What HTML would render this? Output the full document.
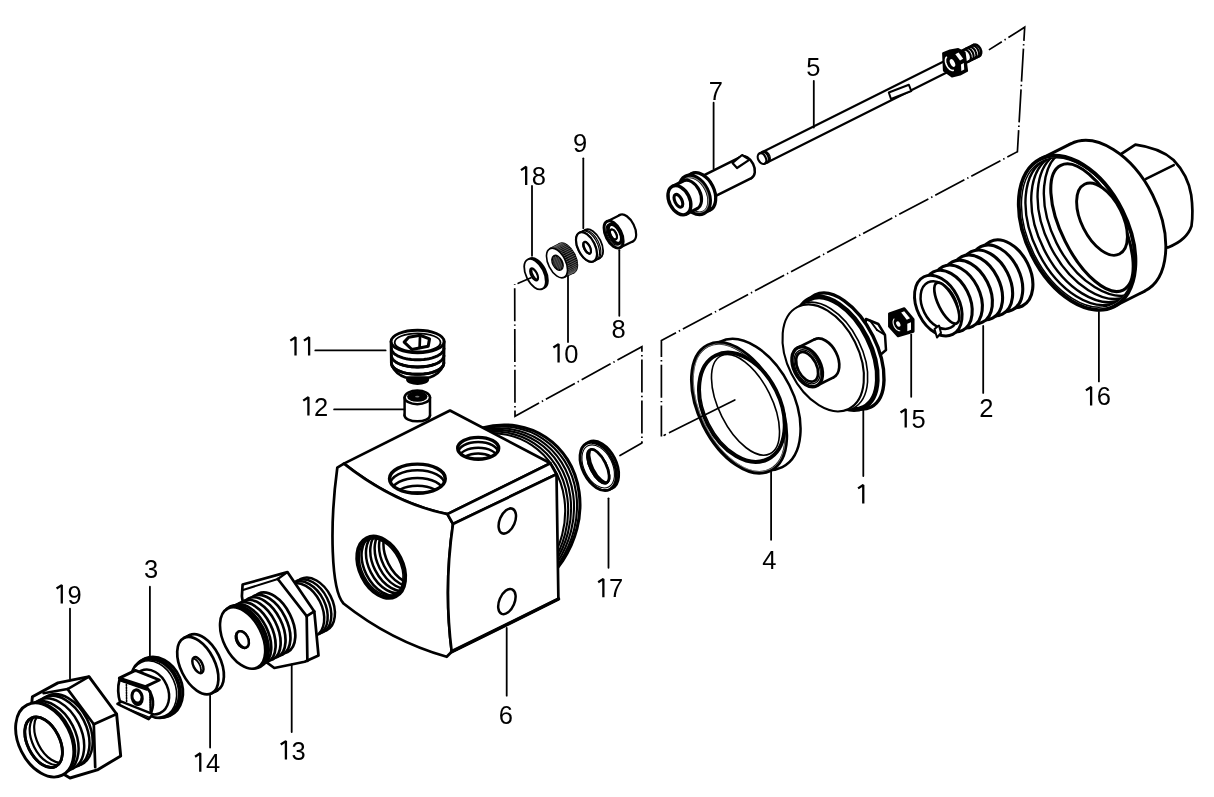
<!DOCTYPE html>
<html><head><meta charset="utf-8"><style>
html,body{margin:0;padding:0;background:#fff;}
svg{display:block;will-change:transform;}
text{font-family:"Liberation Sans",sans-serif;fill:#000;}
</style></head><body>
<svg width="1214" height="797" viewBox="0 0 1214 797" stroke-linecap="round" stroke-linejoin="round">
<defs><clipPath id="c1"><ellipse cx="417.4" cy="478.7" rx="27.9" ry="14.6" transform="rotate(0 417.4 478.7)"/></clipPath><clipPath id="c2"><ellipse cx="478.2" cy="448.3" rx="20.5" ry="10.9" transform="rotate(0 478.2 448.3)"/></clipPath><clipPath id="c3"><ellipse cx="381.2" cy="567.2" rx="21.4" ry="32.5" transform="rotate(-26.6 381.2 567.2)"/></clipPath><clipPath id="c4"><ellipse cx="598.3" cy="466.3" rx="7.8" ry="18.4" transform="rotate(-26.6 598.3 466.3)"/></clipPath><clipPath id="c5"><ellipse cx="534.1" cy="274.4" rx="2.9" ry="6.6" transform="rotate(-26.6 534.1 274.4)"/></clipPath><clipPath id="c6"><ellipse cx="557.5" cy="262.8" rx="4.6" ry="7.7" transform="rotate(-26.6 557.5 262.8)"/></clipPath><clipPath id="c7"><ellipse cx="587.1" cy="247.8" rx="2.9" ry="6.4" transform="rotate(-26.6 587.1 247.8)"/></clipPath><clipPath id="c8"><ellipse cx="613.4" cy="234.5" rx="2.8" ry="5.3" transform="rotate(-26.6 613.4 234.5)"/></clipPath><clipPath id="c9"><ellipse cx="1077.9" cy="232.4" rx="48.9" ry="79.7" transform="rotate(-26.6 1077.9 232.4)"/></clipPath><clipPath id="c10"><ellipse cx="43.6" cy="742.2" rx="16.1" ry="27.1" transform="rotate(-26.6 43.6 742.2)"/></clipPath><clipPath id="c11"><ellipse cx="197.9" cy="665.1" rx="4.5" ry="8.7" transform="rotate(-26.6 197.9 665.1)"/></clipPath><clipPath id="c12"><ellipse cx="242.4" cy="639.6" rx="5.8" ry="8.8" transform="rotate(-26.6 242.4 639.6)"/></clipPath></defs>
<rect width="1214" height="797" fill="#fff"/>
<ellipse cx="494.1" cy="515.2" rx="82.3" ry="93.5" transform="rotate(33.5 494.1 515.2)" fill="#fff" stroke="#000" stroke-width="3.1"/>
<ellipse cx="491.5" cy="516.5" rx="82" ry="93.2" transform="rotate(33.5 491.5 516.5)" fill="#fff" stroke="#000" stroke-width="2.1"/>
<ellipse cx="488.9" cy="517.8" rx="81.6" ry="92.8" transform="rotate(33.5 488.9 517.8)" fill="#fff" stroke="#000" stroke-width="2.1"/>
<ellipse cx="486.3" cy="519.1" rx="81.2" ry="92.5" transform="rotate(33.5 486.3 519.1)" fill="#fff" stroke="#000" stroke-width="2.1"/>
<ellipse cx="483.7" cy="520.4" rx="80.9" ry="92.1" transform="rotate(33.5 483.7 520.4)" fill="#fff" stroke="#000" stroke-width="2.1"/>
<ellipse cx="481.1" cy="521.7" rx="80.5" ry="91.8" transform="rotate(33.5 481.1 521.7)" fill="#fff" stroke="#000" stroke-width="2.1"/>
<path d="M450,410.5 L550.4,463.3 L447.4,514.1 Q394.75,503.55 343.9,463.6 Z" fill="#fff" stroke="#000" stroke-width="2.7" />
<path d="M337.3,467.7 L343.9,463.6 Q394.75,503.55 447.4,514.1 L453,524 Q443.65,588.15 451.7,651.7 L446.7,656.8 Q390.3,640.65 343.5,603.5 C331,590 329.5,525 337.3,467.7 Z" fill="#fff" stroke="#000" stroke-width="2.7" />
<path d="M447.4,514.1 L550.4,463.3 L556.5,474.3 L453,524 Z" fill="#fff" stroke="#000" stroke-width="2.7" />
<path d="M453,524 L556.5,474.3 L558.4,599 L451.7,651.7 Q443.65,588.15 453,524 Z" fill="#fff" stroke="#000" stroke-width="2.7" />
<line x1="451.7" y1="651.7" x2="558.4" y2="599" stroke="#000" stroke-width="3.6"/>
<g clip-path="url(#c1)">
<ellipse cx="417.4" cy="484.5" rx="27.1" ry="14.2" transform="rotate(0 417.4 484.5)" fill="none" stroke="#000" stroke-width="2.5"/>
<ellipse cx="417.4" cy="491.5" rx="25.9" ry="13.6" transform="rotate(0 417.4 491.5)" fill="none" stroke="#000" stroke-width="2.5"/>
<ellipse cx="417.4" cy="498.6" rx="24.6" ry="12.8" transform="rotate(0 417.4 498.6)" fill="none" stroke="#000" stroke-width="2.5"/>
<ellipse cx="417.4" cy="504.2" rx="22.3" ry="11.7" transform="rotate(0 417.4 504.2)" fill="none" stroke="#000" stroke-width="2.5"/>
</g>
<ellipse cx="417.4" cy="478.7" rx="27.9" ry="14.6" transform="rotate(0 417.4 478.7)" fill="none" stroke="#000" stroke-width="3.4"/>
<g clip-path="url(#c2)">
<ellipse cx="478.2" cy="452.7" rx="19.9" ry="10.6" transform="rotate(0 478.2 452.7)" fill="none" stroke="#000" stroke-width="2.5"/>
<ellipse cx="478.2" cy="457.9" rx="19.1" ry="10.1" transform="rotate(0 478.2 457.9)" fill="none" stroke="#000" stroke-width="2.5"/>
<ellipse cx="478.2" cy="463.1" rx="18" ry="9.6" transform="rotate(0 478.2 463.1)" fill="none" stroke="#000" stroke-width="2.5"/>
<ellipse cx="478.2" cy="467.4" rx="16.4" ry="8.7" transform="rotate(0 478.2 467.4)" fill="none" stroke="#000" stroke-width="2.5"/>
</g>
<ellipse cx="478.2" cy="448.3" rx="20.5" ry="10.9" transform="rotate(0 478.2 448.3)" fill="none" stroke="#000" stroke-width="3.4"/>
<g clip-path="url(#c3)">
<ellipse cx="385.6" cy="565" rx="21.4" ry="32.5" transform="rotate(-26.6 385.6 565)" fill="none" stroke="#000" stroke-width="2.5"/>
<ellipse cx="390" cy="562.8" rx="21.4" ry="32.5" transform="rotate(-26.6 390 562.8)" fill="none" stroke="#000" stroke-width="2.5"/>
<ellipse cx="394.3" cy="560.6" rx="21.4" ry="32.5" transform="rotate(-26.6 394.3 560.6)" fill="none" stroke="#000" stroke-width="2.5"/>
<ellipse cx="398.7" cy="558.4" rx="21.4" ry="32.5" transform="rotate(-26.6 398.7 558.4)" fill="none" stroke="#000" stroke-width="2.5"/>
<ellipse cx="403.1" cy="556.2" rx="21.4" ry="32.5" transform="rotate(-26.6 403.1 556.2)" fill="none" stroke="#000" stroke-width="2.5"/>
<ellipse cx="407.5" cy="554" rx="21.4" ry="32.5" transform="rotate(-26.6 407.5 554)" fill="none" stroke="#000" stroke-width="2.5"/>
</g>
<ellipse cx="381.2" cy="567.2" rx="19.2" ry="30.3" transform="rotate(-26.6 381.2 567.2)" fill="none" stroke="#000" stroke-width="1.6"/>
<ellipse cx="381.2" cy="567.2" rx="21.4" ry="32.5" transform="rotate(-26.6 381.2 567.2)" fill="none" stroke="#000" stroke-width="3.8"/>
<ellipse cx="507.3" cy="521" rx="7.6" ry="13.3" transform="rotate(23 507.3 521)" fill="none" stroke="#000" stroke-width="2.5"/>
<ellipse cx="506.9" cy="601.6" rx="7.6" ry="13.3" transform="rotate(23 506.9 601.6)" fill="none" stroke="#000" stroke-width="2.5"/>
<ellipse cx="417.3" cy="415.4" rx="12.7" ry="5.9" transform="rotate(0 417.3 415.4)" fill="#fff" stroke="#000" stroke-width="2.5"/>
<polygon points="404.6,397.4 430,397.4 430,415.4 404.6,415.4" fill="#fff" stroke="#000" stroke-width="0" stroke-linejoin="round"/>
<line x1="404.6" y1="397.4" x2="404.6" y2="415.4" stroke="#000" stroke-width="2.5"/>
<line x1="430" y1="397.4" x2="430" y2="415.4" stroke="#000" stroke-width="2.5"/>
<ellipse cx="417.3" cy="397.4" rx="12.7" ry="6.8" transform="rotate(0 417.3 397.4)" fill="#fff" stroke="#000" stroke-width="2.5"/>
<ellipse cx="417.3" cy="396.4" rx="10.2" ry="5.3" transform="rotate(0 417.3 396.4)" fill="#000" stroke="#000" stroke-width="0"/>
<ellipse cx="417.3" cy="396.6" rx="2.2" ry="0.9" transform="rotate(0 417.3 396.6)" fill="#777" stroke="#000" stroke-width="0"/>
<ellipse cx="417.6" cy="379.2" rx="10.5" ry="4.6" transform="rotate(0 417.6 379.2)" fill="#000" stroke="#000" stroke-width="2.2"/>
<path d="M392.1,366 Q395.6,374 405.6,377.5 L429.6,377.5 Q439.6,374 443.1,366 Z" fill="#fff" stroke="#000" stroke-width="2.7" />
<ellipse cx="417.6" cy="363" rx="26.2" ry="11.3" transform="rotate(0 417.6 363)" fill="#fff" stroke="#000" stroke-width="2.9"/>
<ellipse cx="417.6" cy="355.7" rx="26.2" ry="11.3" transform="rotate(0 417.6 355.7)" fill="#fff" stroke="#000" stroke-width="2.9"/>
<ellipse cx="417.6" cy="348.5" rx="26.2" ry="11.3" transform="rotate(0 417.6 348.5)" fill="#fff" stroke="#000" stroke-width="2.9"/>
<polygon points="391.1,341.5 444.1,341.5 443.8,363 391.4,363" fill="#fff" stroke="#000" stroke-width="0" stroke-linejoin="round"/>
<line x1="391.1" y1="341.5" x2="391.4" y2="363" stroke="#000" stroke-width="2.9"/>
<line x1="444.1" y1="341.5" x2="443.8" y2="363" stroke="#000" stroke-width="2.9"/>
<path d="M443.8 363 L443.7 363.8 L443.5 364.6 L443.2 365.3 L442.8 366.1 L442.2 366.9 L441.5 367.6 L440.7 368.3 L439.8 369 L438.8 369.6 L437.7 370.3 L436.4 370.8 L435.1 371.4 L433.7 371.9 L432.3 372.4 L430.7 372.8 L429.1 373.2 L427.4 373.5 L425.7 373.7 L423.9 374 L422.1 374.1 L420.3 374.2 L418.5 374.3 L416.7 374.3 L414.9 374.2 L413.1 374.1 L411.3 374 L409.5 373.7 L407.8 373.5 L406.1 373.2 L404.5 372.8 L402.9 372.4 L401.5 371.9 L400.1 371.4 L398.8 370.8 L397.5 370.3 L396.4 369.6 L395.4 369 L394.5 368.3 L393.7 367.6 L393 366.9 L392.4 366.1 L392 365.3 L391.7 364.6 L391.5 363.8 L391.4 363" fill="none" stroke="#000" stroke-width="2.9"/>
<path d="M443.8 355.7 L443.7 356.5 L443.5 357.3 L443.2 358 L442.8 358.8 L442.2 359.6 L441.5 360.3 L440.7 361 L439.8 361.7 L438.8 362.3 L437.7 363 L436.4 363.5 L435.1 364.1 L433.7 364.6 L432.3 365.1 L430.7 365.5 L429.1 365.9 L427.4 366.2 L425.7 366.4 L423.9 366.7 L422.1 366.8 L420.3 366.9 L418.5 367 L416.7 367 L414.9 366.9 L413.1 366.8 L411.3 366.7 L409.5 366.4 L407.8 366.2 L406.1 365.9 L404.5 365.5 L402.9 365.1 L401.5 364.6 L400.1 364.1 L398.8 363.5 L397.5 363 L396.4 362.3 L395.4 361.7 L394.5 361 L393.7 360.3 L393 359.6 L392.4 358.8 L392 358 L391.7 357.3 L391.5 356.5 L391.4 355.7" fill="none" stroke="#000" stroke-width="2.9"/>
<path d="M443.8 348.5 L443.7 349.3 L443.5 350.1 L443.2 350.8 L442.8 351.6 L442.2 352.4 L441.5 353.1 L440.7 353.8 L439.8 354.5 L438.8 355.1 L437.7 355.8 L436.4 356.3 L435.1 356.9 L433.7 357.4 L432.3 357.9 L430.7 358.3 L429.1 358.7 L427.4 359 L425.7 359.2 L423.9 359.5 L422.1 359.6 L420.3 359.7 L418.5 359.8 L416.7 359.8 L414.9 359.7 L413.1 359.6 L411.3 359.5 L409.5 359.2 L407.8 359 L406.1 358.7 L404.5 358.3 L402.9 357.9 L401.5 357.4 L400.1 356.9 L398.8 356.3 L397.5 355.8 L396.4 355.1 L395.4 354.5 L394.5 353.8 L393.7 353.1 L393 352.4 L392.4 351.6 L392 350.8 L391.7 350.1 L391.5 349.3 L391.4 348.5" fill="none" stroke="#000" stroke-width="2.9"/>
<ellipse cx="417.6" cy="341.5" rx="26.5" ry="11.3" transform="rotate(0 417.6 341.5)" fill="#fff" stroke="#000" stroke-width="2.9"/>
<ellipse cx="417.6" cy="342.4" rx="22.9" ry="9.1" transform="rotate(0 417.6 342.4)" fill="none" stroke="#000" stroke-width="1.8"/>
<polygon points="404.2,342.1 408.7,337.2 420.1,335.2 429.5,338.9 428.2,346.2 411.9,349.5" fill="#fff" stroke="#000" stroke-width="3.1" stroke-linejoin="round"/>
<line x1="420" y1="337" x2="419.6" y2="347.8" stroke="#000" stroke-width="2.7"/>
<ellipse cx="600.5" cy="465.2" rx="15.7" ry="25.8" transform="rotate(-26.6 600.5 465.2)" fill="#fff" stroke="#000" stroke-width="2.9"/>
<ellipse cx="598.2" cy="466.4" rx="15.7" ry="25.8" transform="rotate(-26.6 598.2 466.4)" fill="#fff" stroke="#000" stroke-width="2.9"/>
<ellipse cx="598.2" cy="466.4" rx="14.1" ry="23" transform="rotate(-26.6 598.2 466.4)" fill="none" stroke="#000" stroke-width="1.1"/>
<ellipse cx="598.3" cy="466.3" rx="7.8" ry="18.4" transform="rotate(-26.6 598.3 466.3)" fill="#000" stroke="#000" stroke-width="2.7"/>
<g clip-path="url(#c4)">
<ellipse cx="601.2" cy="464.9" rx="7.8" ry="18.4" transform="rotate(-26.6 601.2 464.9)" fill="#fff" stroke="#000" stroke-width="0"/>
</g>
<ellipse cx="598.3" cy="466.3" rx="7.8" ry="18.4" transform="rotate(-26.6 598.3 466.3)" fill="none" stroke="#000" stroke-width="2.7"/>
<ellipse cx="537" cy="273.2" rx="8.9" ry="16.4" transform="rotate(-26.6 537 273.2)" fill="#000" stroke="#000" stroke-width="2"/>
<ellipse cx="535" cy="274.2" rx="8.9" ry="16.4" transform="rotate(-26.6 535 274.2)" fill="#fff" stroke="#000" stroke-width="1.8"/>
<ellipse cx="534.1" cy="274.4" rx="2.9" ry="6.6" transform="rotate(-26.6 534.1 274.4)" fill="#fff" stroke="#000" stroke-width="2.2"/>
<g clip-path="url(#c5)">
<path d="M538.4 279.6 L538.2 279.7 L538 279.7 L537.8 279.7 L537.5 279.7 L537.3 279.7 L537.1 279.6 L536.8 279.5 L536.6 279.4 L536.3 279.2 L536 279 L535.8 278.8 L535.5 278.6 L535.2 278.4 L534.9 278.1 L534.7 277.8 L534.4 277.5 L534.2 277.1 L533.9 276.8 L533.7 276.4 L533.4 276 L533.2 275.6 L533 275.2 L532.8 274.8 L532.6 274.4 L532.4 274 L532.2 273.6 L532.1 273.1 L532 272.7 L531.8 272.3 L531.7 271.9 L531.7 271.5 L531.6 271.1 L531.6 270.8 L531.5 270.4 L531.5 270.1 L531.6 269.7 L531.6 269.4 L531.6 269.2 L531.7 268.9 L531.8 268.7 L531.9 268.5 L532 268.3 L532.2 268.1 L532.3 268 L532.5 267.9" fill="none" stroke="#000" stroke-width="1.8"/>
</g>
<ellipse cx="566.8" cy="258.1" rx="8.6" ry="16" transform="rotate(-26.6 566.8 258.1)" fill="#111" stroke="#000" stroke-width="1.8"/>
<polygon points="549.9,248.7 559.7,243.8 574,272.4 564.1,277.3" fill="#111" stroke="#000" stroke-width="1.8" stroke-linejoin="round"/>
<line x1="550.7" y1="248.4" x2="560.5" y2="243.5" stroke="#777" stroke-width="0.7"/>
<line x1="551.9" y1="248.2" x2="561.8" y2="243.3" stroke="#777" stroke-width="0.7"/>
<line x1="553.3" y1="248.3" x2="563.1" y2="243.4" stroke="#777" stroke-width="0.7"/>
<line x1="554.7" y1="248.7" x2="564.5" y2="243.8" stroke="#777" stroke-width="0.7"/>
<line x1="556.1" y1="249.4" x2="565.9" y2="244.4" stroke="#777" stroke-width="0.7"/>
<line x1="557.6" y1="250.3" x2="567.4" y2="245.4" stroke="#777" stroke-width="0.7"/>
<line x1="559" y1="251.5" x2="568.9" y2="246.6" stroke="#777" stroke-width="0.7"/>
<line x1="560.4" y1="252.9" x2="570.3" y2="248" stroke="#777" stroke-width="0.7"/>
<line x1="561.8" y1="254.5" x2="571.6" y2="249.6" stroke="#777" stroke-width="0.7"/>
<line x1="563" y1="256.3" x2="572.9" y2="251.3" stroke="#777" stroke-width="0.7"/>
<line x1="564.2" y1="258.2" x2="574" y2="253.2" stroke="#777" stroke-width="0.7"/>
<line x1="565.2" y1="260.2" x2="575" y2="255.2" stroke="#777" stroke-width="0.7"/>
<line x1="566" y1="262.2" x2="575.8" y2="257.3" stroke="#777" stroke-width="0.7"/>
<line x1="566.7" y1="264.3" x2="576.5" y2="259.4" stroke="#777" stroke-width="0.7"/>
<line x1="567.1" y1="266.3" x2="577" y2="261.4" stroke="#777" stroke-width="0.7"/>
<line x1="567.4" y1="268.3" x2="577.3" y2="263.4" stroke="#777" stroke-width="0.7"/>
<line x1="567.5" y1="270.2" x2="577.3" y2="265.2" stroke="#777" stroke-width="0.7"/>
<line x1="567.4" y1="271.9" x2="577.2" y2="267" stroke="#777" stroke-width="0.7"/>
<line x1="567" y1="273.5" x2="576.9" y2="268.5" stroke="#777" stroke-width="0.7"/>
<line x1="566.5" y1="274.8" x2="576.3" y2="269.9" stroke="#777" stroke-width="0.7"/>
<line x1="565.8" y1="275.9" x2="575.6" y2="271" stroke="#777" stroke-width="0.7"/>
<line x1="564.9" y1="276.8" x2="574.8" y2="271.9" stroke="#777" stroke-width="0.7"/>
<ellipse cx="557" cy="263" rx="8.6" ry="16" transform="rotate(-26.6 557 263)" fill="#fff" stroke="#000" stroke-width="1.6"/>
<ellipse cx="557.5" cy="262.8" rx="4.6" ry="7.7" transform="rotate(-26.6 557.5 262.8)" fill="#333" stroke="#000" stroke-width="2"/>
<g clip-path="url(#c6)">
<line x1="542.2" y1="256" x2="548.2" y2="270" stroke="#666" stroke-width="0.6"/>
<line x1="544.8" y1="256" x2="550.8" y2="270" stroke="#666" stroke-width="0.6"/>
<line x1="547.4" y1="256" x2="553.4" y2="270" stroke="#666" stroke-width="0.6"/>
<line x1="550" y1="256" x2="556" y2="270" stroke="#666" stroke-width="0.6"/>
<line x1="552.6" y1="256" x2="558.6" y2="270" stroke="#666" stroke-width="0.6"/>
<line x1="555.2" y1="256" x2="561.2" y2="270" stroke="#666" stroke-width="0.6"/>
<line x1="557.8" y1="256" x2="563.8" y2="270" stroke="#666" stroke-width="0.6"/>
</g>
<ellipse cx="592.6" cy="244" rx="8.6" ry="16" transform="rotate(-26.6 592.6 244)" fill="#fff" stroke="#000" stroke-width="1.8"/>
<polygon points="579.4,232.7 585.4,229.7 599.7,258.2 593.6,261.3" fill="#fff" stroke="#000" stroke-width="0" stroke-linejoin="round"/>
<line x1="579.4" y1="232.7" x2="585.4" y2="229.7" stroke="#000" stroke-width="1.8"/>
<line x1="593.6" y1="261.3" x2="599.7" y2="258.2" stroke="#000" stroke-width="1.8"/>
<ellipse cx="586.5" cy="247" rx="8.6" ry="16" transform="rotate(-26.6 586.5 247)" fill="#fff" stroke="#000" stroke-width="1.8"/>
<path d="M581.9 231.5 L582.4 231.2 L583 231.1 L583.6 231 L584.3 230.9 L584.9 231 L585.6 231.1 L586.3 231.3 L587 231.6 L587.7 231.9 L588.5 232.3 L589.2 232.8 L589.9 233.3 L590.7 233.9 L591.4 234.6 L592.1 235.3 L592.8 236 L593.5 236.8 L594.1 237.7 L594.7 238.6 L595.3 239.5 L595.9 240.4 L596.4 241.4 L596.9 242.4 L597.4 243.4 L597.8 244.4 L598.2 245.5 L598.5 246.5 L598.8 247.5 L599.1 248.6 L599.2 249.6 L599.4 250.5 L599.5 251.5 L599.5 252.5 L599.5 253.4 L599.4 254.2 L599.3 255 L599.1 255.8 L598.9 256.6 L598.7 257.2 L598.4 257.9 L598 258.4 L597.6 258.9 L597.2 259.4 L596.7 259.7 L596.2 260" fill="none" stroke="#000" stroke-width="1.2"/>
<path d="M583.2 230.8 L583.8 230.6 L584.3 230.4 L585 230.3 L585.6 230.3 L586.3 230.3 L586.9 230.5 L587.6 230.7 L588.4 230.9 L589.1 231.3 L589.8 231.7 L590.5 232.1 L591.3 232.7 L592 233.2 L592.7 233.9 L593.4 234.6 L594.1 235.4 L594.8 236.2 L595.5 237 L596.1 237.9 L596.7 238.8 L597.2 239.8 L597.8 240.7 L598.3 241.7 L598.7 242.7 L599.2 243.8 L599.5 244.8 L599.9 245.8 L600.2 246.9 L600.4 247.9 L600.6 248.9 L600.7 249.9 L600.8 250.8 L600.8 251.8 L600.8 252.7 L600.8 253.6 L600.6 254.4 L600.5 255.2 L600.3 255.9 L600 256.6 L599.7 257.2 L599.3 257.8 L598.9 258.3 L598.5 258.7 L598 259.1 L597.5 259.4" fill="none" stroke="#000" stroke-width="1.2"/>
<ellipse cx="586.5" cy="247" rx="8.6" ry="16" transform="rotate(-26.6 586.5 247)" fill="#fff" stroke="#000" stroke-width="2.2"/>
<ellipse cx="587.1" cy="247.8" rx="2.9" ry="6.4" transform="rotate(-26.6 587.1 247.8)" fill="#000" stroke="#000" stroke-width="2.1"/>
<g clip-path="url(#c7)">
<ellipse cx="588.4" cy="247.1" rx="2.9" ry="6.4" transform="rotate(-26.6 588.4 247.1)" fill="#fff" stroke="#000" stroke-width="0"/>
</g>
<ellipse cx="587.1" cy="247.8" rx="2.9" ry="6.4" transform="rotate(-26.6 587.1 247.8)" fill="none" stroke="#000" stroke-width="2.1"/>
<ellipse cx="626.6" cy="228" rx="7.8" ry="14.7" transform="rotate(-26.6 626.6 228)" fill="#fff" stroke="#000" stroke-width="2.2"/>
<polygon points="607,221.4 620,214.9 633.1,241.2 620.2,247.6" fill="#fff" stroke="#000" stroke-width="0" stroke-linejoin="round"/>
<line x1="607" y1="221.4" x2="620" y2="214.9" stroke="#000" stroke-width="2.2"/>
<line x1="620.2" y1="247.6" x2="633.1" y2="241.2" stroke="#000" stroke-width="2.2"/>
<ellipse cx="613.6" cy="234.5" rx="7.8" ry="14.7" transform="rotate(-26.6 613.6 234.5)" fill="#fff" stroke="#000" stroke-width="2.9"/>
<ellipse cx="613.6" cy="234.5" rx="6.1" ry="11.5" transform="rotate(-26.6 613.6 234.5)" fill="none" stroke="#000" stroke-width="1.2"/>
<ellipse cx="614.9" cy="233.9" rx="5.5" ry="10.4" transform="rotate(-26.6 614.9 233.9)" fill="none" stroke="#000" stroke-width="3.4"/>
<ellipse cx="613.4" cy="234.5" rx="2.8" ry="5.3" transform="rotate(-26.6 613.4 234.5)" fill="#000" stroke="#000" stroke-width="2.2"/>
<g clip-path="url(#c8)">
<ellipse cx="614.4" cy="234" rx="2.8" ry="5.3" transform="rotate(-26.6 614.4 234)" fill="#fff" stroke="#000" stroke-width="0"/>
</g>
<ellipse cx="613.4" cy="234.5" rx="2.8" ry="5.3" transform="rotate(-26.6 613.4 234.5)" fill="none" stroke="#000" stroke-width="2.2"/>
<ellipse cx="746.1" cy="167.4" rx="7.8" ry="11.9" transform="rotate(-26.6 746.1 167.4)" fill="#fff" stroke="#000" stroke-width="2.5"/>
<polygon points="703.7,175.4 740.8,156.8 751.4,178.1 714.3,196.6" fill="#fff" stroke="#000" stroke-width="0" stroke-linejoin="round"/>
<line x1="703.7" y1="175.4" x2="740.8" y2="156.8" stroke="#000" stroke-width="2.5"/>
<line x1="714.3" y1="196.6" x2="751.4" y2="178.1" stroke="#000" stroke-width="2.5"/>
<polygon points="732.5,162.9 742.1,155 749.6,159.7 737,168" fill="#fff" stroke="#000" stroke-width="2.2" stroke-linejoin="round"/>
<ellipse cx="700.5" cy="192" rx="13.5" ry="20.5" transform="rotate(-26.6 700.5 192)" fill="#fff" stroke="#000" stroke-width="3.4"/>
<ellipse cx="700.5" cy="192" rx="13.3" ry="20.2" transform="rotate(-26.6 700.5 192)" fill="#fff" stroke="#000" stroke-width="2.7"/>
<polygon points="685.7,176.9 691.5,174 709.5,210 703.7,212.9" fill="#fff" stroke="#000" stroke-width="0" stroke-linejoin="round"/>
<line x1="685.7" y1="176.9" x2="691.5" y2="174" stroke="#000" stroke-width="2.7"/>
<line x1="703.7" y1="212.9" x2="709.5" y2="210" stroke="#000" stroke-width="2.7"/>
<ellipse cx="694.7" cy="194.9" rx="13.3" ry="20.2" transform="rotate(-26.6 694.7 194.9)" fill="#fff" stroke="#000" stroke-width="4.7"/>
<ellipse cx="694.7" cy="194.9" rx="12.3" ry="18.7" transform="rotate(-26.6 694.7 194.9)" fill="none" stroke="#888" stroke-width="1.1"/>
<ellipse cx="690.1" cy="194.8" rx="10.2" ry="15.5" transform="rotate(-26.6 690.1 194.8)" fill="#fff" stroke="#000" stroke-width="3.1"/>
<polygon points="672.5,186.3 683.2,181 697.1,208.7 686.3,214.1" fill="#fff" stroke="#000" stroke-width="0" stroke-linejoin="round"/>
<line x1="672.5" y1="186.3" x2="683.2" y2="181" stroke="#000" stroke-width="3.1"/>
<line x1="686.3" y1="214.1" x2="697.1" y2="208.7" stroke="#000" stroke-width="3.1"/>
<ellipse cx="679.4" cy="200.2" rx="10.2" ry="15.5" transform="rotate(-26.6 679.4 200.2)" fill="#fff" stroke="#000" stroke-width="3.4"/>
<ellipse cx="678.4" cy="200.8" rx="3.5" ry="6.9" transform="rotate(-26.6 678.4 200.8)" fill="#fff" stroke="#000" stroke-width="3.1"/>
<ellipse cx="947.1" cy="66" rx="3.8" ry="5.7" transform="rotate(-26.6 947.1 66)" fill="#fff" stroke="#000" stroke-width="2.2"/>
<polygon points="759.4,153.5 944.6,60.9 949.7,71.1 764.6,163.7" fill="#fff" stroke="#000" stroke-width="0" stroke-linejoin="round"/>
<line x1="759.4" y1="153.5" x2="944.6" y2="60.9" stroke="#000" stroke-width="2.2"/>
<line x1="764.6" y1="163.7" x2="949.7" y2="71.1" stroke="#000" stroke-width="2.2"/>
<ellipse cx="762" cy="158.6" rx="3.8" ry="5.7" transform="rotate(-26.6 762 158.6)" fill="#fff" stroke="#000" stroke-width="2.2"/>
<path d="M762.1 152.1 L762.4 152 L762.6 151.9 L762.9 151.9 L763.2 151.9 L763.4 151.9 L763.7 151.9 L764 151.9 L764.3 152 L764.6 152.1 L764.9 152.2 L765.2 152.4 L765.5 152.6 L765.8 152.8 L766.1 153 L766.3 153.2 L766.6 153.5 L766.9 153.8 L767.1 154.1 L767.3 154.4 L767.6 154.7 L767.8 155 L768 155.4 L768.2 155.7 L768.3 156.1 L768.5 156.5 L768.6 156.9 L768.7 157.2 L768.8 157.6 L768.8 158 L768.9 158.4 L768.9 158.7 L768.9 159.1 L768.9 159.4 L768.9 159.8 L768.8 160.1 L768.7 160.4 L768.7 160.7 L768.5 161 L768.4 161.3 L768.3 161.5 L768.1 161.7 L767.9 161.9 L767.7 162.1 L767.5 162.3 L767.2 162.4" fill="none" stroke="#000" stroke-width="2.5"/>
<path d="M763.5 151.5 L763.7 151.4 L764 151.3 L764.2 151.2 L764.5 151.2 L764.8 151.2 L765.1 151.2 L765.3 151.3 L765.6 151.3 L765.9 151.4 L766.2 151.6 L766.5 151.7 L766.8 151.9 L767.1 152.1 L767.4 152.3 L767.7 152.6 L767.9 152.8 L768.2 153.1 L768.5 153.4 L768.7 153.7 L768.9 154 L769.1 154.4 L769.3 154.7 L769.5 155.1 L769.7 155.4 L769.8 155.8 L769.9 156.2 L770 156.6 L770.1 156.9 L770.2 157.3 L770.2 157.7 L770.3 158.1 L770.3 158.4 L770.3 158.8 L770.2 159.1 L770.2 159.4 L770.1 159.7 L770 160 L769.9 160.3 L769.7 160.6 L769.6 160.8 L769.4 161 L769.2 161.3 L769 161.4 L768.8 161.6 L768.6 161.7" fill="none" stroke="#000" stroke-width="1.2"/>
<polygon points="888.8,92.5 908.9,84.8 911.3,91 891,99" fill="#fff" stroke="#000" stroke-width="2" stroke-linejoin="round"/>
<ellipse cx="976.5" cy="50.5" rx="4.2" ry="6.4" transform="rotate(-26.6 976.5 50.5)" fill="#fff" stroke="#000" stroke-width="2.5"/>
<polygon points="960.7,51.3 973.6,44.8 979.3,56.2 966.3,62.7" fill="#fff" stroke="#000" stroke-width="0" stroke-linejoin="round"/>
<line x1="960.7" y1="51.3" x2="973.6" y2="44.8" stroke="#000" stroke-width="2.5"/>
<line x1="966.3" y1="62.7" x2="979.3" y2="56.2" stroke="#000" stroke-width="2.5"/>
<path d="M963.3 50 L963.6 49.8 L963.9 49.8 L964.2 49.7 L964.5 49.7 L964.8 49.7 L965.1 49.7 L965.4 49.7 L965.8 49.8 L966.1 49.9 L966.4 50.1 L966.7 50.3 L967.1 50.4 L967.4 50.7 L967.7 50.9 L968 51.2 L968.3 51.5 L968.6 51.8 L968.9 52.1 L969.1 52.5 L969.4 52.8 L969.6 53.2 L969.8 53.6 L970 54 L970.2 54.4 L970.4 54.8 L970.5 55.2 L970.6 55.6 L970.7 56 L970.8 56.5 L970.9 56.9 L970.9 57.3 L970.9 57.7 L970.9 58.1 L970.8 58.5 L970.8 58.8 L970.7 59.2 L970.6 59.5 L970.5 59.8 L970.3 60.1 L970.1 60.4 L970 60.6 L969.8 60.8 L969.5 61 L969.3 61.2 L969 61.4" fill="none" stroke="#000" stroke-width="2.1"/>
<path d="M966 48.6 L966.3 48.5 L966.6 48.4 L966.9 48.4 L967.2 48.3 L967.5 48.3 L967.8 48.3 L968.1 48.4 L968.4 48.5 L968.8 48.6 L969.1 48.7 L969.4 48.9 L969.8 49.1 L970.1 49.3 L970.4 49.6 L970.7 49.8 L971 50.1 L971.3 50.4 L971.6 50.8 L971.8 51.1 L972.1 51.5 L972.3 51.9 L972.5 52.2 L972.7 52.6 L972.9 53 L973.1 53.5 L973.2 53.9 L973.3 54.3 L973.4 54.7 L973.5 55.1 L973.5 55.5 L973.6 55.9 L973.6 56.3 L973.6 56.7 L973.5 57.1 L973.5 57.5 L973.4 57.8 L973.3 58.2 L973.1 58.5 L973 58.8 L972.8 59 L972.6 59.3 L972.4 59.5 L972.2 59.7 L972 59.9 L971.7 60" fill="none" stroke="#000" stroke-width="2.1"/>
<path d="M968.7 47.3 L969 47.2 L969.3 47.1 L969.5 47 L969.8 47 L970.2 47 L970.5 47 L970.8 47.1 L971.1 47.1 L971.5 47.3 L971.8 47.4 L972.1 47.6 L972.4 47.8 L972.8 48 L973.1 48.2 L973.4 48.5 L973.7 48.8 L974 49.1 L974.2 49.4 L974.5 49.8 L974.8 50.1 L975 50.5 L975.2 50.9 L975.4 51.3 L975.6 51.7 L975.7 52.1 L975.9 52.5 L976 52.9 L976.1 53.4 L976.2 53.8 L976.2 54.2 L976.3 54.6 L976.3 55 L976.3 55.4 L976.2 55.8 L976.1 56.1 L976.1 56.5 L976 56.8 L975.8 57.1 L975.7 57.4 L975.5 57.7 L975.3 57.9 L975.1 58.2 L974.9 58.4 L974.7 58.5 L974.4 58.7" fill="none" stroke="#000" stroke-width="2.1"/>
<path d="M971.4 45.9 L971.7 45.8 L971.9 45.7 L972.2 45.7 L972.5 45.6 L972.8 45.6 L973.2 45.7 L973.5 45.7 L973.8 45.8 L974.1 45.9 L974.5 46.1 L974.8 46.2 L975.1 46.4 L975.4 46.6 L975.8 46.9 L976.1 47.2 L976.4 47.4 L976.7 47.8 L976.9 48.1 L977.2 48.4 L977.4 48.8 L977.7 49.2 L977.9 49.6 L978.1 50 L978.3 50.4 L978.4 50.8 L978.6 51.2 L978.7 51.6 L978.8 52 L978.9 52.4 L978.9 52.9 L978.9 53.3 L979 53.7 L978.9 54 L978.9 54.4 L978.8 54.8 L978.7 55.1 L978.6 55.5 L978.5 55.8 L978.4 56.1 L978.2 56.3 L978 56.6 L977.8 56.8 L977.6 57 L977.3 57.2 L977.1 57.3" fill="none" stroke="#000" stroke-width="2.1"/>
<polygon points="943.2,53.2 950,50.5 958.2,49.1 964.5,52.5 967,70.8 960,74.5 952,76.4 944,70.5 943.5,60.1" fill="#000" stroke="#000" stroke-width="2.2" stroke-linejoin="round"/>
<polygon points="955.3,54.2 958.6,52.6 963.2,58.8 960,60.6" fill="#fff" stroke="#000" stroke-width="0" stroke-linejoin="round"/>
<polygon points="961,64.4 963.8,63 964.2,69.6 961.3,71" fill="#fff" stroke="#000" stroke-width="0" stroke-linejoin="round"/>
<path d="M953.2 70.4 L952.8 70.5 L952.5 70.5 L952.2 70.4 L951.9 70.4 L951.5 70.2 L951.2 70.1 L950.8 69.9 L950.5 69.7 L950.1 69.5 L949.8 69.3 L949.4 69 L949.1 68.6 L948.8 68.3 L948.4 67.9 L948.1 67.6 L947.8 67.2 L947.5 66.7 L947.2 66.3 L947 65.8 L946.7 65.4 L946.5 64.9 L946.3 64.4 L946.1 63.9 L946 63.5 L945.8 63 L945.7 62.5 L945.6 62 L945.5 61.5 L945.5 61.1 L945.5 60.6 L945.5 60.2 L945.5 59.8 L945.5 59.4 L945.6 59 L945.7 58.6 L945.8 58.3 L946 58 L946.1 57.7 L946.3 57.4 L946.5 57.2" fill="none" stroke="#fff" stroke-width="1.6"/>
<ellipse cx="952.5" cy="63" rx="2.2" ry="4.2" transform="rotate(-26.6 952.5 63)" fill="#fff" stroke="#000" stroke-width="0"/>
<ellipse cx="751" cy="404.5" rx="42.9" ry="70" transform="rotate(-26.6 751 404.5)" fill="#fff" stroke="#000" stroke-width="2.5"/>
<ellipse cx="739.1" cy="407.8" rx="39.6" ry="69.8" transform="rotate(-26.6 739.1 407.8)" fill="#fff" stroke="#000" stroke-width="3.8"/>
<ellipse cx="739.3" cy="407.7" rx="38.5" ry="68.8" transform="rotate(-26.6 739.3 407.7)" fill="none" stroke="#ccc" stroke-width="0.5"/>
<ellipse cx="741.8" cy="407.3" rx="38.5" ry="58.4" transform="rotate(-26.6 741.8 407.3)" fill="#fff" stroke="#000" stroke-width="3.1"/>
<ellipse cx="741.9" cy="407.2" rx="36.8" ry="56.8" transform="rotate(-26.6 741.9 407.2)" fill="none" stroke="#000" stroke-width="1.5"/>
<ellipse cx="745.5" cy="404.8" rx="26.4" ry="54.7" transform="rotate(-26.6 745.5 404.8)" fill="none" stroke="#000" stroke-width="1.6"/>
<polygon points="866,319 878.3,324 885,335 886,350 879,356 862,350" fill="#fff" stroke="#000" stroke-width="2.5" stroke-linejoin="round"/>
<line x1="870" y1="320.5" x2="877" y2="330" stroke="#000" stroke-width="2"/>
<line x1="877" y1="330" x2="885" y2="335" stroke="#000" stroke-width="2"/>
<ellipse cx="843" cy="351" rx="33.5" ry="62.6" transform="rotate(-26.6 843 351)" fill="#fff" stroke="#000" stroke-width="3.4"/>
<ellipse cx="836.5" cy="353.2" rx="34.2" ry="60.5" transform="rotate(-26.6 836.5 353.2)" fill="#fff" stroke="#000" stroke-width="4.7"/>
<ellipse cx="827" cy="356.5" rx="35.1" ry="58" transform="rotate(-26.6 827 356.5)" fill="#fff" stroke="#000" stroke-width="1.6"/>
<ellipse cx="823.2" cy="357.9" rx="35.5" ry="57" transform="rotate(-26.6 823.2 357.9)" fill="#fff" stroke="#000" stroke-width="2.1"/>
<ellipse cx="824" cy="358.4" rx="13.4" ry="21.2" transform="rotate(-26.6 824 358.4)" fill="#fff" stroke="#000" stroke-width="2.7"/>
<polygon points="797.7,347.8 814.5,339.4 833.5,377.4 816.7,385.8" fill="#fff" stroke="#000" stroke-width="0" stroke-linejoin="round"/>
<line x1="797.7" y1="347.8" x2="814.5" y2="339.4" stroke="#000" stroke-width="2.7"/>
<line x1="816.7" y1="385.8" x2="833.5" y2="377.4" stroke="#000" stroke-width="2.7"/>
<ellipse cx="807.2" cy="366.8" rx="13.4" ry="21.2" transform="rotate(-26.6 807.2 366.8)" fill="#fff" stroke="#000" stroke-width="3.4"/>
<ellipse cx="807.2" cy="366.8" rx="11.5" ry="18.1" transform="rotate(-26.6 807.2 366.8)" fill="none" stroke="#000" stroke-width="1.3"/>
<ellipse cx="807.1" cy="366.8" rx="9.4" ry="15.9" transform="rotate(-26.6 807.1 366.8)" fill="#fff" stroke="#000" stroke-width="2.7"/>
<polygon points="889.3,313.6 904.3,308.5 913.3,319.2 913.3,331.6 898.1,336.1 889.3,326.5" fill="#000" stroke="#000" stroke-width="2.5" stroke-linejoin="round"/>
<polygon points="901.2,312.5 904.2,311.2 910,318.2 906.8,319.8" fill="#fff" stroke="#000" stroke-width="0" stroke-linejoin="round"/>
<polygon points="907.3,323.8 911,322.2 911,329.8 907.3,331.2" fill="#fff" stroke="#000" stroke-width="0" stroke-linejoin="round"/>
<path d="M899.8 330.8 L899.5 330.8 L899.1 330.7 L898.8 330.6 L898.4 330.5 L898.1 330.3 L897.7 330.1 L897.3 329.9 L897 329.7 L896.6 329.4 L896.3 329.1 L896 328.8 L895.7 328.5 L895.4 328.1 L895.1 327.7 L894.8 327.3 L894.5 326.9 L894.3 326.5 L894.1 326 L893.9 325.6 L893.7 325.1 L893.6 324.7 L893.4 324.2 L893.3 323.8 L893.2 323.3 L893.2 322.9 L893.1 322.4 L893.1 322 L893.1 321.5 L893.2 321.1 L893.3 320.7 L893.3 320.3 L893.5 320 L893.6 319.6 L893.8 319.3 L894 319" fill="none" stroke="#fff" stroke-width="1.1"/>
<ellipse cx="898.3" cy="324" rx="1.9" ry="2.9" transform="rotate(-26.6 898.3 324)" fill="#fff" stroke="#000" stroke-width="0"/>
<ellipse cx="1006.2" cy="273.8" rx="23.8" ry="36" transform="rotate(-26.6 1006.2 273.8)" fill="#fff" stroke="#000" stroke-width="3.1"/>
<ellipse cx="996.5" cy="278.3" rx="23.4" ry="35.4" transform="rotate(-26.6 996.5 278.3)" fill="#fff" stroke="#000" stroke-width="3.1"/>
<ellipse cx="986.8" cy="282.9" rx="23" ry="34.9" transform="rotate(-26.6 986.8 282.9)" fill="#fff" stroke="#000" stroke-width="3.1"/>
<ellipse cx="977.1" cy="287.4" rx="22.7" ry="34.4" transform="rotate(-26.6 977.1 287.4)" fill="#fff" stroke="#000" stroke-width="3.1"/>
<ellipse cx="967.4" cy="292" rx="22.3" ry="33.8" transform="rotate(-26.6 967.4 292)" fill="#fff" stroke="#000" stroke-width="3.1"/>
<ellipse cx="957.7" cy="296.5" rx="22" ry="33.3" transform="rotate(-26.6 957.7 296.5)" fill="#fff" stroke="#000" stroke-width="3.1"/>
<ellipse cx="948" cy="301.1" rx="21.6" ry="32.7" transform="rotate(-26.6 948 301.1)" fill="#fff" stroke="#000" stroke-width="3.1"/>
<ellipse cx="938.3" cy="305.6" rx="21.2" ry="32.2" transform="rotate(-26.6 938.3 305.6)" fill="#fff" stroke="#000" stroke-width="2.9"/>
<ellipse cx="939.3" cy="305.1" rx="16.7" ry="25.3" transform="rotate(-26.6 939.3 305.1)" fill="#fff" stroke="#000" stroke-width="2.5"/>
<ellipse cx="946.8" cy="303.1" rx="8.3" ry="22.5" transform="rotate(-26.6 946.8 303.1)" fill="#fff" stroke="#000" stroke-width="2.7"/>
<polygon points="934.5,329 939,325.5 941,333 937,337.5" fill="#fff" stroke="#000" stroke-width="2" stroke-linejoin="round"/>
<path d="M1112,160 L1135.4,144.7 Q1160,148 1173.5,160 Q1188,175 1191.2,195 Q1193.5,212 1191.5,226 Q1187,240 1168,247.4 L1150,250 Z" fill="#fff" stroke="#000" stroke-width="2.7" />
<line x1="1146" y1="178.9" x2="1173.8" y2="165.1" stroke="#000" stroke-width="2.5"/>
<ellipse cx="1107.5" cy="217.6" rx="50.5" ry="82.4" transform="rotate(-26.6 1107.5 217.6)" fill="#fff" stroke="#000" stroke-width="2.9"/>
<polygon points="1040.2,159.1 1070.6,143.9 1144.4,291.3 1114,306.5" fill="#fff" stroke="#000" stroke-width="0" stroke-linejoin="round"/>
<line x1="1040.2" y1="159.1" x2="1070.6" y2="143.9" stroke="#000" stroke-width="2.9"/>
<line x1="1114" y1="306.5" x2="1144.4" y2="291.3" stroke="#000" stroke-width="2.9"/>
<ellipse cx="1077.1" cy="232.8" rx="50.5" ry="82.4" transform="rotate(-26.6 1077.1 232.8)" fill="#fff" stroke="#000" stroke-width="3.8"/>
<g clip-path="url(#c9)">
<ellipse cx="1081.9" cy="230.4" rx="48.9" ry="79.7" transform="rotate(-26.6 1081.9 230.4)" fill="none" stroke="#000" stroke-width="2.4"/>
<ellipse cx="1087.7" cy="227.5" rx="48.9" ry="79.7" transform="rotate(-26.6 1087.7 227.5)" fill="none" stroke="#000" stroke-width="2.4"/>
<ellipse cx="1094" cy="224.3" rx="48.9" ry="79.7" transform="rotate(-26.6 1094 224.3)" fill="none" stroke="#000" stroke-width="2.4"/>
<ellipse cx="1100.3" cy="221.2" rx="48.9" ry="79.7" transform="rotate(-26.6 1100.3 221.2)" fill="none" stroke="#000" stroke-width="2.4"/>
</g>
<ellipse cx="1077.9" cy="232.4" rx="48.9" ry="79.7" transform="rotate(-26.6 1077.9 232.4)" fill="none" stroke="#000" stroke-width="1.5"/>
<ellipse cx="1092" cy="227.7" rx="30.1" ry="69.7" transform="rotate(-26.6 1092 227.7)" fill="#fff" stroke="#000" stroke-width="3.1"/>
<ellipse cx="1102" cy="219.2" rx="20.6" ry="39" transform="rotate(-26.6 1102 219.2)" fill="#fff" stroke="#000" stroke-width="2.9"/>
<polygon points="32.4,696.7 57.9,682.9 89,676.7 116.6,714 120.7,756 97.3,769.9 70,778 40,760 30,720" fill="#fff" stroke="#000" stroke-width="2.9" stroke-linejoin="round"/>
<line x1="43.5" y1="693.3" x2="67.6" y2="689.1" stroke="#000" stroke-width="2.5"/>
<line x1="89" y1="676.7" x2="67.6" y2="689.1" stroke="#000" stroke-width="2.5"/>
<line x1="67.6" y1="689.1" x2="93.8" y2="724.3" stroke="#000" stroke-width="2.7"/>
<line x1="93.8" y1="724.3" x2="116.6" y2="714" stroke="#000" stroke-width="2.7"/>
<line x1="93.8" y1="724.3" x2="95.2" y2="767.1" stroke="#000" stroke-width="2.7"/>
<ellipse cx="64.4" cy="730.2" rx="25.2" ry="38.2" transform="rotate(-26.6 64.4 730.2)" fill="#fff" stroke="#000" stroke-width="2.5"/>
<ellipse cx="61.2" cy="731.7" rx="25.2" ry="38.2" transform="rotate(-26.6 61.2 731.7)" fill="#fff" stroke="#000" stroke-width="2.5"/>
<ellipse cx="55.9" cy="734.4" rx="25.2" ry="38.2" transform="rotate(-26.6 55.9 734.4)" fill="#fff" stroke="#000" stroke-width="2.5"/>
<ellipse cx="50.3" cy="737.2" rx="25.2" ry="38.2" transform="rotate(-26.6 50.3 737.2)" fill="#fff" stroke="#000" stroke-width="2.5"/>
<ellipse cx="46.5" cy="739.1" rx="25.6" ry="38.9" transform="rotate(-26.6 46.5 739.1)" fill="#fff" stroke="#000" stroke-width="2.2"/>
<ellipse cx="44.7" cy="740" rx="25.9" ry="39.3" transform="rotate(-26.6 44.7 740)" fill="#fff" stroke="#000" stroke-width="2.9"/>
<ellipse cx="43.6" cy="742.2" rx="16.1" ry="27.1" transform="rotate(-26.6 43.6 742.2)" fill="#fff" stroke="#000" stroke-width="2.7"/>
<g clip-path="url(#c10)">
<ellipse cx="48.5" cy="739.7" rx="16.1" ry="27.1" transform="rotate(-26.6 48.5 739.7)" fill="none" stroke="#000" stroke-width="2.2"/>
<ellipse cx="53" cy="737.5" rx="16.1" ry="27.1" transform="rotate(-26.6 53 737.5)" fill="none" stroke="#000" stroke-width="2.2"/>
</g>
<ellipse cx="43.6" cy="742.2" rx="16.1" ry="27.1" transform="rotate(-26.6 43.6 742.2)" fill="none" stroke="#000" stroke-width="2.9"/>
<ellipse cx="157.4" cy="687.1" rx="24.2" ry="31.1" transform="rotate(-23.6 157.4 687.1)" fill="#fff" stroke="#000" stroke-width="2.9"/>
<ellipse cx="155.4" cy="688" rx="23.2" ry="30.2" transform="rotate(-23.6 155.4 688)" fill="#fff" stroke="#000" stroke-width="4"/>
<ellipse cx="153.2" cy="689" rx="22.2" ry="29.2" transform="rotate(-23.6 153.2 689)" fill="#fff" stroke="#000" stroke-width="1.6"/>
<ellipse cx="150.5" cy="692" rx="17.6" ry="23.2" transform="rotate(-23.6 150.5 692)" fill="#fff" stroke="#000" stroke-width="2.5"/>
<path d="M119.5,679.6 Q116.5,691 120.3,702.9 L150.0,715.0 Q157.0,701 147.6,688.4 Z" fill="#fff" stroke="#000" stroke-width="2.7" />
<polygon points="119.3,678.1 135.4,670.4 159.4,680 145.4,686.6" fill="#fff" stroke="#000" stroke-width="2.9" stroke-linejoin="round"/>
<line x1="121" y1="681" x2="146.8" y2="690" stroke="#000" stroke-width="1.7"/>
<polygon points="117.4,703.8 121.5,701.6 153,714.2 148.6,719.2" fill="#fff" stroke="#000" stroke-width="2.5" stroke-linejoin="round"/>
<line x1="120" y1="705.5" x2="149" y2="717.2" stroke="#000" stroke-width="1.3"/>
<line x1="126.4" y1="684.5" x2="126.6" y2="702" stroke="#000" stroke-width="1.6" stroke-dasharray="1.3 1.3"/>
<line x1="150.2" y1="691.5" x2="150.6" y2="712.5" stroke="#000" stroke-width="2.4" stroke-dasharray="1.4 1.1"/>
<ellipse cx="137.1" cy="697.2" rx="5" ry="7.4" transform="rotate(-12 137.1 697.2)" fill="#fff" stroke="#000" stroke-width="3.1"/>
<path d="M141.6 698.9 L141.5 699.2 L141.5 699.5 L141.4 699.8 L141.3 700.1 L141.2 700.4 L141 700.7 L140.9 701 L140.7 701.2 L140.5 701.4 L140.3 701.7 L140.1 701.9 L139.8 702 L139.6 702.2 L139.3 702.4 L139.1 702.5 L138.8 702.6 L138.5 702.7 L138.2 702.7 L137.9 702.8 L137.6 702.8 L137.3 702.8 L137 702.7 L136.7 702.7 L136.5 702.6 L136.2 702.5 L135.9 702.4 L135.6 702.3 L135.4 702.1 L135.1 702 L134.9 701.8 L134.6 701.6 L134.4 701.3 L134.2 701.1 L134 700.8 L133.9 700.6" fill="none" stroke="#000" stroke-width="2.5"/>
<ellipse cx="203.3" cy="662.8" rx="17.1" ry="30.9" transform="rotate(-26.6 203.3 662.8)" fill="#fff" stroke="#000" stroke-width="2.7"/>
<polygon points="184,637.9 189.5,635.2 217.2,690.5 211.6,693.3" fill="#fff" stroke="#000" stroke-width="0" stroke-linejoin="round"/>
<line x1="184" y1="637.9" x2="189.5" y2="635.2" stroke="#000" stroke-width="2.7"/>
<line x1="211.6" y1="693.3" x2="217.2" y2="690.5" stroke="#000" stroke-width="2.7"/>
<ellipse cx="197.8" cy="665.6" rx="17.1" ry="30.9" transform="rotate(-26.6 197.8 665.6)" fill="#fff" stroke="#000" stroke-width="2.7"/>
<ellipse cx="197.9" cy="665.1" rx="4.5" ry="8.7" transform="rotate(-26.6 197.9 665.1)" fill="#fff" stroke="#000" stroke-width="2.5"/>
<g clip-path="url(#c11)">
<path d="M191.5 658.6 L191.8 658.5 L192.1 658.4 L192.5 658.4 L192.8 658.4 L193.1 658.4 L193.5 658.5 L193.9 658.6 L194.3 658.7 L194.6 658.9 L195 659.1 L195.4 659.4 L195.8 659.7 L196.2 660 L196.6 660.3 L197 660.7 L197.3 661.1 L197.7 661.6 L198 662 L198.4 662.5 L198.7 663 L199 663.5 L199.3 664.1 L199.6 664.6 L199.8 665.1 L200.1 665.7 L200.3 666.3 L200.4 666.8 L200.6 667.4 L200.7 667.9 L200.8 668.5 L200.9 669 L201 669.5 L201 670 L201 670.5 L201 671 L200.9 671.4 L200.8 671.8 L200.7 672.2 L200.6 672.6 L200.4 672.9 L200.2 673.2 L200 673.5 L199.8 673.7 L199.5 673.9 L199.3 674.1" fill="none" stroke="#000" stroke-width="1.8"/>
</g>
<ellipse cx="313.7" cy="604.6" rx="18.9" ry="28.7" transform="rotate(-26.6 313.7 604.6)" fill="#fff" stroke="#000" stroke-width="2.5"/>
<ellipse cx="310.1" cy="606.4" rx="18.9" ry="28.7" transform="rotate(-26.6 310.1 606.4)" fill="#fff" stroke="#000" stroke-width="2.5"/>
<ellipse cx="306.5" cy="608.2" rx="18.9" ry="28.7" transform="rotate(-26.6 306.5 608.2)" fill="#fff" stroke="#000" stroke-width="2.5"/>
<ellipse cx="303" cy="610" rx="18.9" ry="28.7" transform="rotate(-26.6 303 610)" fill="#fff" stroke="#000" stroke-width="2.5"/>
<polygon points="242.6,584.5 287.4,572.1 314.3,611.4 318.5,655.5 304.7,661.7 274.3,668 250,650 241.9,596.2" fill="#fff" stroke="#000" stroke-width="2.7" stroke-linejoin="round"/>
<line x1="243" y1="590" x2="277.8" y2="579" stroke="#000" stroke-width="2"/>
<line x1="287.4" y1="572.1" x2="277.8" y2="579" stroke="#000" stroke-width="2.2"/>
<line x1="277.8" y1="579" x2="306.7" y2="616.2" stroke="#000" stroke-width="2.7"/>
<line x1="306.7" y1="616.2" x2="314.3" y2="611.4" stroke="#000" stroke-width="2.7"/>
<line x1="306.7" y1="616.2" x2="307.4" y2="661" stroke="#000" stroke-width="2.7"/>
<ellipse cx="273" cy="622.8" rx="18.9" ry="32.6" transform="rotate(-26.6 273 622.8)" fill="#fff" stroke="#000" stroke-width="2.7"/>
<ellipse cx="268.1" cy="625.3" rx="18.9" ry="32.6" transform="rotate(-26.6 268.1 625.3)" fill="#fff" stroke="#000" stroke-width="2.7"/>
<ellipse cx="263.2" cy="627.7" rx="18.9" ry="32.6" transform="rotate(-26.6 263.2 627.7)" fill="#fff" stroke="#000" stroke-width="2.7"/>
<ellipse cx="258.3" cy="630.2" rx="18.9" ry="32.6" transform="rotate(-26.6 258.3 630.2)" fill="#fff" stroke="#000" stroke-width="2.7"/>
<ellipse cx="253.3" cy="632.6" rx="18.9" ry="32.6" transform="rotate(-26.6 253.3 632.6)" fill="#fff" stroke="#000" stroke-width="2.7"/>
<ellipse cx="248.9" cy="634.9" rx="18.9" ry="32.6" transform="rotate(-26.6 248.9 634.9)" fill="#fff" stroke="#000" stroke-width="2.7"/>
<ellipse cx="245.3" cy="636.7" rx="19.1" ry="32.9" transform="rotate(-26.6 245.3 636.7)" fill="#fff" stroke="#000" stroke-width="4.3"/>
<ellipse cx="242.6" cy="638" rx="19.1" ry="33" transform="rotate(-26.6 242.6 638)" fill="#fff" stroke="#000" stroke-width="2.6"/>
<ellipse cx="242.4" cy="639.6" rx="5.8" ry="8.8" transform="rotate(-26.6 242.4 639.6)" fill="#000" stroke="#000" stroke-width="2.5"/>
<g clip-path="url(#c12)">
<ellipse cx="244.2" cy="638.7" rx="5.8" ry="8.8" transform="rotate(-26.6 244.2 638.7)" fill="#fff" stroke="#000" stroke-width="0"/>
</g>
<ellipse cx="242.4" cy="639.6" rx="5.8" ry="8.8" transform="rotate(-26.6 242.4 639.6)" fill="none" stroke="#000" stroke-width="2.5"/>
<path d="M61.77 603.50 L61.77 585.10 L56.57 588.50" fill="none" stroke="#000" stroke-width="2.3" stroke-linejoin="bevel" stroke-linecap="butt"/>
<text x="74.55" y="603.50" font-size="25.5" text-anchor="middle">9</text>
<text x="151.05" y="577.90" font-size="25.5" text-anchor="middle">3</text>
<path d="M200.27 771.70 L200.27 753.30 L195.07 756.70" fill="none" stroke="#000" stroke-width="2.3" stroke-linejoin="bevel" stroke-linecap="butt"/>
<text x="213.05" y="771.70" font-size="25.5" text-anchor="middle">4</text>
<path d="M285.92 759.50 L285.92 741.10 L280.72 744.50" fill="none" stroke="#000" stroke-width="2.3" stroke-linejoin="bevel" stroke-linecap="butt"/>
<text x="298.70" y="759.50" font-size="25.5" text-anchor="middle">3</text>
<text x="505.95" y="724.00" font-size="25.5" text-anchor="middle">6</text>
<path d="M603.37 597.30 L603.37 578.90 L598.17 582.30" fill="none" stroke="#000" stroke-width="2.3" stroke-linejoin="bevel" stroke-linecap="butt"/>
<text x="616.15" y="597.30" font-size="25.5" text-anchor="middle">7</text>
<path d="M295.52 355.60 L295.52 337.20 L290.32 340.60" fill="none" stroke="#000" stroke-width="2.3" stroke-linejoin="bevel" stroke-linecap="butt"/>
<path d="M309.12 355.60 L309.12 337.20 L303.92 340.60" fill="none" stroke="#000" stroke-width="2.3" stroke-linejoin="bevel" stroke-linecap="butt"/>
<path d="M308.42 415.60 L308.42 397.20 L303.22 400.60" fill="none" stroke="#000" stroke-width="2.3" stroke-linejoin="bevel" stroke-linecap="butt"/>
<text x="321.20" y="415.60" font-size="25.5" text-anchor="middle">2</text>
<path d="M526.17 185.10 L526.17 166.70 L520.97 170.10" fill="none" stroke="#000" stroke-width="2.3" stroke-linejoin="bevel" stroke-linecap="butt"/>
<text x="538.95" y="185.10" font-size="25.5" text-anchor="middle">8</text>
<text x="580.10" y="152.00" font-size="25.5" text-anchor="middle">9</text>
<path d="M558.57 362.50 L558.57 344.10 L553.37 347.50" fill="none" stroke="#000" stroke-width="2.3" stroke-linejoin="bevel" stroke-linecap="butt"/>
<text x="571.35" y="362.50" font-size="25.5" text-anchor="middle">0</text>
<text x="618.65" y="338.30" font-size="25.5" text-anchor="middle">8</text>
<text x="715.80" y="100.40" font-size="25.5" text-anchor="middle">7</text>
<text x="813.40" y="76.40" font-size="25.5" text-anchor="middle">5</text>
<path d="M863.27 503.40 L863.27 485.00 L858.07 488.40" fill="none" stroke="#000" stroke-width="2.3" stroke-linejoin="bevel" stroke-linecap="butt"/>
<path d="M905.72 427.50 L905.72 409.10 L900.52 412.50" fill="none" stroke="#000" stroke-width="2.3" stroke-linejoin="bevel" stroke-linecap="butt"/>
<text x="918.50" y="427.50" font-size="25.5" text-anchor="middle">5</text>
<text x="986.25" y="417.20" font-size="25.5" text-anchor="middle">2</text>
<path d="M1091.12 405.40 L1091.12 387.00 L1085.92 390.40" fill="none" stroke="#000" stroke-width="2.3" stroke-linejoin="bevel" stroke-linecap="butt"/>
<text x="1103.90" y="405.40" font-size="25.5" text-anchor="middle">6</text>
<text x="769.25" y="568.80" font-size="25.5" text-anchor="middle">4</text>
<line x1="70" y1="608.7" x2="70" y2="678.7" stroke="#000" stroke-width="1.8"/>
<line x1="149.9" y1="586.7" x2="149.9" y2="657.3" stroke="#000" stroke-width="1.8"/>
<line x1="210.1" y1="695.5" x2="210.1" y2="747.5" stroke="#000" stroke-width="1.8"/>
<line x1="291.7" y1="664.4" x2="291.7" y2="732.1" stroke="#000" stroke-width="1.8"/>
<line x1="506.7" y1="628" x2="506.7" y2="695.7" stroke="#000" stroke-width="1.8"/>
<line x1="608.5" y1="498.3" x2="608.5" y2="567.8" stroke="#000" stroke-width="1.8"/>
<line x1="532" y1="185.9" x2="532" y2="255.8" stroke="#000" stroke-width="1.8"/>
<line x1="583.3" y1="158.3" x2="583.3" y2="228.2" stroke="#000" stroke-width="1.8"/>
<line x1="568" y1="276" x2="568" y2="342" stroke="#000" stroke-width="1.8"/>
<line x1="619.3" y1="250.2" x2="619.3" y2="315.8" stroke="#000" stroke-width="1.8"/>
<line x1="713.6" y1="102.7" x2="713.6" y2="168.8" stroke="#000" stroke-width="1.8"/>
<line x1="813.8" y1="80.9" x2="813.8" y2="127.5" stroke="#000" stroke-width="1.8"/>
<line x1="863.3" y1="410" x2="863.3" y2="476" stroke="#000" stroke-width="1.8"/>
<line x1="911.2" y1="334.6" x2="911.2" y2="396.8" stroke="#000" stroke-width="1.8"/>
<line x1="983.2" y1="326" x2="983.2" y2="392.9" stroke="#000" stroke-width="1.8"/>
<line x1="1098.9" y1="311.8" x2="1098.9" y2="381.4" stroke="#000" stroke-width="1.8"/>
<line x1="771.1" y1="471.6" x2="771.1" y2="539.8" stroke="#000" stroke-width="1.8"/>
<line x1="315.3" y1="350.4" x2="385.6" y2="350.4" stroke="#000" stroke-width="1.8"/>
<line x1="334.1" y1="409.4" x2="404.3" y2="409.4" stroke="#000" stroke-width="1.8"/>
<polyline points="514.7,284.3 515,416.2 641.9,346.7 641.9,443" fill="none" stroke="#000" stroke-width="1.7" stroke-dasharray="33 3.2 1.4 3.2" stroke-dashoffset="36.9" stroke-linecap="butt" stroke-linejoin="miter"/>
<line x1="518.2" y1="283.3" x2="531" y2="277.8" stroke="#000" stroke-width="1.7"/>
<line x1="641.9" y1="443" x2="620" y2="455.5" stroke="#000" stroke-width="1.7"/>
<polyline points="988.9,49.9 1024.7,27.2 1017.4,151.7 661.4,340.4 661.4,436.6" fill="none" stroke="#000" stroke-width="1.7" stroke-dasharray="33 3.2 1.4 3.2" stroke-dashoffset="17.7" stroke-linecap="butt" stroke-linejoin="miter"/>
<line x1="664.2" y1="435.2" x2="665.2" y2="434.7" stroke="#000" stroke-width="1.8"/>
<line x1="669.6" y1="432.6" x2="734.8" y2="400" stroke="#000" stroke-width="1.7"/>
</svg></body></html>
